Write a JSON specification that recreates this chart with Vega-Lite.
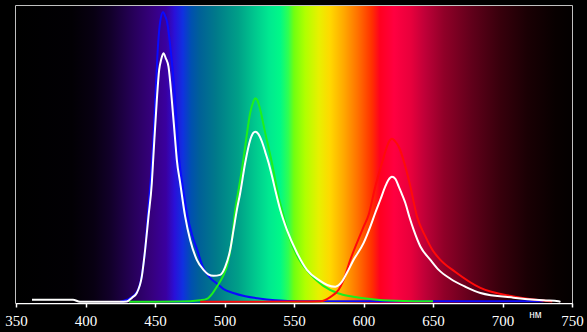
{
  "$schema": "https://vega.github.io/schema/vega-lite/v6.json",
  "width": 556,
  "height": 297,
  "autosize": {"type": "none"},
  "padding": {"left": 16, "top": 6, "right": 15, "bottom": 29},
  "background": "#000000",
  "config": {
    "view": {"stroke": "#ffffff", "strokeWidth": 1.5},
    "axisX": {
      "grid": false,
      "domainColor": "#ffffff", "domainWidth": 1.5,
      "tickColor": "#ffffff", "tickSize": 4, "tickWidth": 1.5,
      "labelColor": "#ffffff", "labelFont": "Liberation Sans Narrow", "labelFontSize": 15,
      "labelPadding": 6, "labelFlush": false, "labelOverlap": false,
      "titleColor": "#ffffff", "titleFont": "Liberation Sans", "titleFontSize": 10,
      "titleFontWeight": "normal", "titleAlign": "center",
      "titleX": 519, "titleY": 14, "titleBaseline": "alphabetic"
    }
  },
  "data": {"values": [
      {"s":"blue","nm":424.9,"v":0},{"s":"blue","nm":429.9,"v":0.007},{"s":"blue","nm":437.1,"v":0.034},{"s":"blue","nm":440.7,"v":0.095},{"s":"blue","nm":442.9,"v":0.176},{"s":"blue","nm":445.0,"v":0.304},{"s":"blue","nm":447.2,"v":0.429},{"s":"blue","nm":448.6,"v":0.53},{"s":"blue","nm":450.4,"v":0.699},{"s":"blue","nm":452.2,"v":0.868},{"s":"blue","nm":453.7,"v":0.946},{"s":"blue","nm":455.8,"v":0.98},{"s":"blue","nm":457.3,"v":0.966},{"s":"blue","nm":458.7,"v":0.946},{"s":"blue","nm":460.9,"v":0.868},{"s":"blue","nm":463.0,"v":0.767},{"s":"blue","nm":464.5,"v":0.682},{"s":"blue","nm":466.3,"v":0.547},{"s":"blue","nm":467.4,"v":0.48},{"s":"blue","nm":469.6,"v":0.402},{"s":"blue","nm":473.2,"v":0.294},{"s":"blue","nm":476.7,"v":0.226},{"s":"blue","nm":480.3,"v":0.176},{"s":"blue","nm":484.7,"v":0.115},{"s":"blue","nm":489.7,"v":0.081},{"s":"blue","nm":494.7,"v":0.061},{"s":"blue","nm":499.1,"v":0.044},{"s":"blue","nm":506.3,"v":0.03},{"s":"blue","nm":514.9,"v":0.019},{"s":"blue","nm":523.5,"v":0.012},{"s":"blue","nm":536.5,"v":0.005},{"s":"blue","nm":554.5,"v":0.002},{"s":"blue","nm":626.5,"v":0.002},{"s":"blue","nm":729.5,"v":0.002},
      {"s":"green","nm":431.4,"v":0},{"s":"green","nm":475.3,"v":0.002},{"s":"green","nm":482.5,"v":0.005},{"s":"green","nm":487.3,"v":0.01},{"s":"green","nm":491.1,"v":0.027},{"s":"green","nm":494.5,"v":0.051},{"s":"green","nm":498.3,"v":0.081},{"s":"green","nm":501.7,"v":0.119},{"s":"green","nm":505.3,"v":0.209},{"s":"green","nm":507.7,"v":0.311},{"s":"green","nm":510.1,"v":0.378},{"s":"green","nm":512.7,"v":0.453},{"s":"green","nm":514.9,"v":0.525},{"s":"green","nm":518.5,"v":0.639},{"s":"green","nm":520.7,"v":0.676},{"s":"green","nm":522.1,"v":0.688},{"s":"green","nm":523.9,"v":0.679},{"s":"green","nm":525.7,"v":0.649},{"s":"green","nm":529.3,"v":0.571},{"s":"green","nm":534.1,"v":0.47},{"s":"green","nm":538.9,"v":0.356},{"s":"green","nm":542.3,"v":0.294},{"s":"green","nm":547.3,"v":0.209},{"s":"green","nm":552.3,"v":0.155},{"s":"green","nm":559.5,"v":0.105},{"s":"green","nm":571.1,"v":0.054},{"s":"green","nm":581.1,"v":0.03},{"s":"green","nm":592.7,"v":0.017},{"s":"green","nm":609.9,"v":0.007},{"s":"green","nm":628.7,"v":0.003},{"s":"green","nm":650.0,"v":0.002},
      {"s":"red","nm":482.5,"v":0},{"s":"red","nm":554.5,"v":0.001},{"s":"red","nm":568.9,"v":0.002},{"s":"red","nm":576.1,"v":0.016},{"s":"red","nm":582.1,"v":0.041},{"s":"red","nm":585.7,"v":0.074},{"s":"red","nm":590.5,"v":0.142},{"s":"red","nm":595.3,"v":0.199},{"s":"red","nm":600.1,"v":0.254},{"s":"red","nm":603.7,"v":0.294},{"s":"red","nm":608.5,"v":0.39},{"s":"red","nm":613.3,"v":0.47},{"s":"red","nm":616.9,"v":0.525},{"s":"red","nm":618.6,"v":0.544},{"s":"red","nm":620.5,"v":0.551},{"s":"red","nm":622.5,"v":0.544},{"s":"red","nm":625.3,"v":0.525},{"s":"red","nm":630.1,"v":0.457},{"s":"red","nm":633.7,"v":0.39},{"s":"red","nm":638.5,"v":0.288},{"s":"red","nm":644.5,"v":0.221},{"s":"red","nm":649.5,"v":0.176},{"s":"red","nm":655.3,"v":0.142},{"s":"red","nm":666.1,"v":0.101},{"s":"red","nm":684.1,"v":0.047},{"s":"red","nm":707.9,"v":0.018},{"s":"red","nm":735.8,"v":0.001},
      {"s":"white","nm":361.5,"v":0.007},{"s":"white","nm":391.0,"v":0.007},{"s":"white","nm":396.0,"v":0},{"s":"white","nm":424.9,"v":0},{"s":"white","nm":429.7,"v":0.001},{"s":"white","nm":433.5,"v":0.014},{"s":"white","nm":436.9,"v":0.03},{"s":"white","nm":440.5,"v":0.085},{"s":"white","nm":442.9,"v":0.176},{"s":"white","nm":445.3,"v":0.288},{"s":"white","nm":447.7,"v":0.401},{"s":"white","nm":448.9,"v":0.497},{"s":"white","nm":451.3,"v":0.682},{"s":"white","nm":453.0,"v":0.784},{"s":"white","nm":454.4,"v":0.818},{"s":"white","nm":456.1,"v":0.84},{"s":"white","nm":457.7,"v":0.824},{"s":"white","nm":459.7,"v":0.795},{"s":"white","nm":462.1,"v":0.682},{"s":"white","nm":464.5,"v":0.547},{"s":"white","nm":465.7,"v":0.48},{"s":"white","nm":468.1,"v":0.402},{"s":"white","nm":471.7,"v":0.288},{"s":"white","nm":475.3,"v":0.209},{"s":"white","nm":480.1,"v":0.142},{"s":"white","nm":484.9,"v":0.108},{"s":"white","nm":488.3,"v":0.093},{"s":"white","nm":492.1,"v":0.088},{"s":"white","nm":496.9,"v":0.091},{"s":"white","nm":500.5,"v":0.118},{"s":"white","nm":504.1,"v":0.176},{"s":"white","nm":506.5,"v":0.243},{"s":"white","nm":508.9,"v":0.311},{"s":"white","nm":511.3,"v":0.368},{"s":"white","nm":514.9,"v":0.47},{"s":"white","nm":518.5,"v":0.547},{"s":"white","nm":520.7,"v":0.571},{"s":"white","nm":522.1,"v":0.575},{"s":"white","nm":524.3,"v":0.568},{"s":"white","nm":526.9,"v":0.542},{"s":"white","nm":529.3,"v":0.507},{"s":"white","nm":531.7,"v":0.47},{"s":"white","nm":534.1,"v":0.426},{"s":"white","nm":536.5,"v":0.378},{"s":"white","nm":540.1,"v":0.311},{"s":"white","nm":544.9,"v":0.243},{"s":"white","nm":552.1,"v":0.166},{"s":"white","nm":559.3,"v":0.108},{"s":"white","nm":567.7,"v":0.074},{"s":"white","nm":573.9,"v":0.057},{"s":"white","nm":579.7,"v":0.051},{"s":"white","nm":584.5,"v":0.068},{"s":"white","nm":588.1,"v":0.098},{"s":"white","nm":592.9,"v":0.142},{"s":"white","nm":600.1,"v":0.199},{"s":"white","nm":604.9,"v":0.254},{"s":"white","nm":608.5,"v":0.301},{"s":"white","nm":612.1,"v":0.345},{"s":"white","nm":615.7,"v":0.39},{"s":"white","nm":617.9,"v":0.412},{"s":"white","nm":620.5,"v":0.423},{"s":"white","nm":622.9,"v":0.416},{"s":"white","nm":625.3,"v":0.39},{"s":"white","nm":627.9,"v":0.361},{"s":"white","nm":630.1,"v":0.334},{"s":"white","nm":633.2,"v":0.284},{"s":"white","nm":636.1,"v":0.243},{"s":"white","nm":640.9,"v":0.187},{"s":"white","nm":648.1,"v":0.142},{"s":"white","nm":654.1,"v":0.108},{"s":"white","nm":662.5,"v":0.078},{"s":"white","nm":673.3,"v":0.051},{"s":"white","nm":684.1,"v":0.03},{"s":"white","nm":707.9,"v":0.014},{"s":"white","nm":729.5,"v":0.005},{"s":"white","nm":740.3,"v":0.002},{"s":"white","nm":741.7,"v":0}
  ]},
  "layer": [
    {
      "data": {"values": [{"start": 350, "end": 750, "lo": -0.004, "hi": 1}]},
      "mark": {
        "type": "rect",
        "color": {
          "gradient": "linear", "x1": 0, "x2": 1, "y1": 0, "y2": 0,
          "stops": [
            {"offset": 0, "color": "#000000"},
            {"offset": 0.10, "color": "#020004"},
            {"offset": 0.14, "color": "#080012"},
            {"offset": 0.17, "color": "#12002a"},
            {"offset": 0.21, "color": "#260058"},
            {"offset": 0.245, "color": "#36007e"},
            {"offset": 0.27, "color": "#3a00a0"},
            {"offset": 0.285, "color": "#2a10d8"},
            {"offset": 0.30, "color": "#1030e0"},
            {"offset": 0.315, "color": "#0050b0"},
            {"offset": 0.33, "color": "#006098"},
            {"offset": 0.36, "color": "#007a8a"},
            {"offset": 0.40, "color": "#00a088"},
            {"offset": 0.43, "color": "#00c88e"},
            {"offset": 0.455, "color": "#00e890"},
            {"offset": 0.475, "color": "#00f888"},
            {"offset": 0.49, "color": "#30ff50"},
            {"offset": 0.50, "color": "#70ff10"},
            {"offset": 0.52, "color": "#b0ff00"},
            {"offset": 0.545, "color": "#e8f000"},
            {"offset": 0.565, "color": "#ffd800"},
            {"offset": 0.59, "color": "#ffa800"},
            {"offset": 0.615, "color": "#ff7000"},
            {"offset": 0.64, "color": "#ff3000"},
            {"offset": 0.655, "color": "#ff0020"},
            {"offset": 0.68, "color": "#ff0040"},
            {"offset": 0.71, "color": "#e8003c"},
            {"offset": 0.735, "color": "#c00038"},
            {"offset": 0.77, "color": "#900028"},
            {"offset": 0.82, "color": "#60001a"},
            {"offset": 0.87, "color": "#38000c"},
            {"offset": 0.92, "color": "#1a0004"},
            {"offset": 0.97, "color": "#080000"},
            {"offset": 1, "color": "#030000"}
          ]
        }
      },
      "encoding": {
        "x": {"field": "start", "type": "quantitative", "scale": {"domain": [350, 750], "nice": false, "zero": false}, "axis": {"values": [350, 400, 450, 500, 550, 600, 650, 700, 750], "title": "нм"}},
        "x2": {"field": "end"},
        "y": {"field": "hi", "type": "quantitative", "scale": {"domain": [-0.004, 1], "nice": false, "zero": false}, "axis": null},
        "y2": {"field": "lo"}
      }
    },
    {
      "transform": [{"filter": "datum.s === 'blue'"}],
      "mark": {"type": "line", "color": "#0a0aff", "strokeWidth": 2, "interpolate": "monotone"},
      "encoding": {
        "x": {"field": "nm", "type": "quantitative", "scale": {"domain": [350, 750], "nice": false, "zero": false}, "axis": {"values": [350, 400, 450, 500, 550, 600, 650, 700, 750], "title": "нм"}},
        "y": {"field": "v", "type": "quantitative", "scale": {"domain": [-0.004, 1], "nice": false, "zero": false}, "axis": null}
      }
    },
    {
      "transform": [{"filter": "datum.s === 'green'"}],
      "mark": {"type": "line", "color": "#1cf01c", "strokeWidth": 2, "interpolate": "monotone"},
      "encoding": {
        "x": {"field": "nm", "type": "quantitative", "scale": {"domain": [350, 750], "nice": false, "zero": false}, "axis": {"values": [350, 400, 450, 500, 550, 600, 650, 700, 750], "title": "нм"}},
        "y": {"field": "v", "type": "quantitative", "scale": {"domain": [-0.004, 1], "nice": false, "zero": false}, "axis": null}
      }
    },
    {
      "transform": [{"filter": "datum.s === 'red'"}],
      "mark": {"type": "line", "color": "#ff0a0a", "strokeWidth": 2, "interpolate": "monotone"},
      "encoding": {
        "x": {"field": "nm", "type": "quantitative", "scale": {"domain": [350, 750], "nice": false, "zero": false}, "axis": {"values": [350, 400, 450, 500, 550, 600, 650, 700, 750], "title": "нм"}},
        "y": {"field": "v", "type": "quantitative", "scale": {"domain": [-0.004, 1], "nice": false, "zero": false}, "axis": null}
      }
    },
    {
      "transform": [{"filter": "datum.s === 'white'"}],
      "mark": {"type": "line", "color": "#ffffff", "strokeWidth": 2, "interpolate": "monotone"},
      "encoding": {
        "x": {"field": "nm", "type": "quantitative", "scale": {"domain": [350, 750], "nice": false, "zero": false}, "axis": {"values": [350, 400, 450, 500, 550, 600, 650, 700, 750], "title": "нм"}},
        "y": {"field": "v", "type": "quantitative", "scale": {"domain": [-0.004, 1], "nice": false, "zero": false}, "axis": null}
      }
    }
  ]
}
